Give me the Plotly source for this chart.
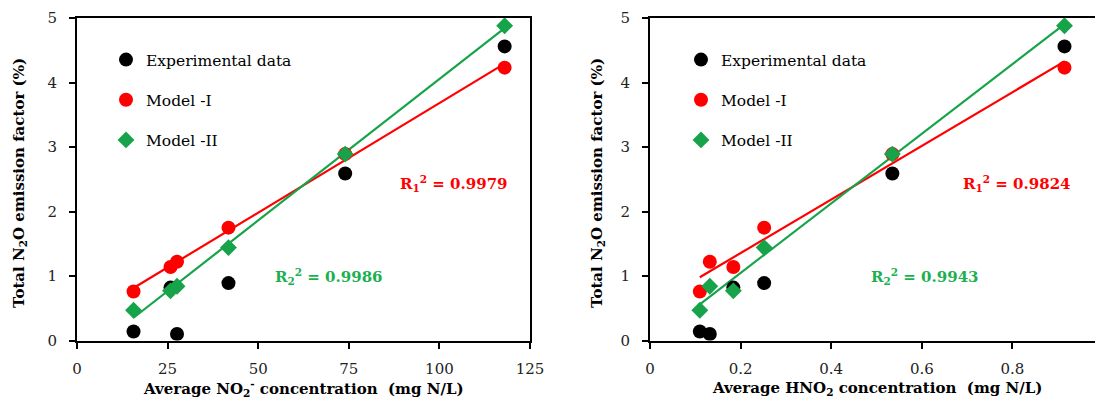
import numpy as np
import plotly.graph_objects as go

# ---- data ----
no2_conc = [15.6, 25.8, 27.6, 41.8, 74.0, 118.0]          # mg N/L
hno2_conc = [0.110, 0.184, 0.132, 0.252, 0.535, 0.915]    # mg N/L
experimental = [0.14, 0.82, 0.10, 0.89, 2.59, 4.56]       # %
model_1 = [0.76, 1.14, 1.22, 1.75, 2.89, 4.23]            # %
model_2 = [0.47, 0.77, 0.84, 1.44, 2.89, 4.88]            # %

r2_left = ["0.9979", "0.9986"]
r2_right = ["0.9824", "0.9943"]

FONT = "DejaVu Serif"
BLACK = "#000000"
RED = "#ff0000"
GREEN = "#16a34a"
GREEN_TXT = "#1cb050"

OFF = 8  # page body margin
W, H = 1103 - OFF, 401 - OFF
def px_x(p):
    return (p - OFF) / W
def px_y(p):
    return (H - (p - OFF)) / H

fig = go.Figure()

def trend(xs, ys):
    k, b = np.polyfit(xs, ys, 1)
    xe = [min(xs), max(xs)]
    return xe, [k * v + b for v in xe]

def add_panel(xs, xa, ya, legend):
    for ys, col in ((model_1, RED), (model_2, GREEN)):
        tx, ty = trend(xs, ys)
        fig.add_trace(go.Scatter(x=tx, y=ty, mode="lines", xaxis=xa, yaxis=ya,
                                 line=dict(color=col, width=2.2), showlegend=False,
                                 hoverinfo="skip"))
    fig.add_trace(go.Scatter(x=xs, y=experimental, mode="markers", xaxis=xa, yaxis=ya,
                             name="Experimental data", legend=legend, legendgroup=legend + "a",
                             marker=dict(color=BLACK, size=14, symbol="circle")))
    fig.add_trace(go.Scatter(x=xs, y=model_1, mode="markers", xaxis=xa, yaxis=ya,
                             name="Model -I", legend=legend, legendgroup=legend + "b",
                             marker=dict(color=RED, size=14, symbol="circle")))
    fig.add_trace(go.Scatter(x=xs, y=model_2, mode="markers", xaxis=xa, yaxis=ya,
                             name="Model -II", legend=legend, legendgroup=legend + "c",
                             marker=dict(color=GREEN, size=13, symbol="diamond")))

add_panel(no2_conc, "x", "y", "legend")
add_panel(hno2_conc, "x2", "y2", "legend2")

axis_common = dict(showline=True, linecolor="black", linewidth=2, mirror=True,
                   ticks="outside", ticklen=6, tickwidth=2, tickcolor="black",
                   showgrid=False, zeroline=False, automargin=False,
                   tickfont=dict(family=FONT, size=15, color="#222"))

ydom = [px_y(340.5), px_y(18)]
leg_common = dict(xanchor="left", yanchor="top",
                  font=dict(family=FONT, size=15.5, color="black"),
                  bgcolor="rgba(0,0,0,0)", tracegroupgap=17, itemwidth=30)
fig.update_layout(
    template="simple_white",
    width=W, height=H,
    margin=dict(l=0, r=0, t=0, b=0, autoexpand=False),
    paper_bgcolor="white", plot_bgcolor="white",
    font=dict(family=FONT, color="black"),
    xaxis=dict(domain=[px_x(77), px_x(530)], range=[0, 125], dtick=25, anchor="y",
               ticklabelstandoff=7, **axis_common),
    yaxis=dict(domain=ydom, range=[0, 5], dtick=1, anchor="x",
               ticklabelstandoff=9, **axis_common),
    xaxis2=dict(domain=[px_x(650), 1.0], range=[0, 1], dtick=0.2, anchor="y2",
                ticklabelstandoff=7, **axis_common),
    yaxis2=dict(domain=ydom, range=[0, 5], dtick=1, anchor="x2",
                ticklabelstandoff=9, **axis_common),
    legend=dict(x=px_x(106), y=px_y(43), **leg_common),
    legend2=dict(x=px_x(681), y=px_y(43), **leg_common),
)

ann = []
ann.append(dict(x=104.0, y=2.44, xref="x", yref="y",
                text="<b>R<sub>1</sub><sup>2</sup> = " + r2_left[0] + "</b>",
                font=dict(family=FONT, size=15, color=RED), showarrow=False))
ann.append(dict(x=69.5, y=1.0, xref="x", yref="y",
                text="<b>R<sub>2</sub><sup>2</sup> = " + r2_left[1] + "</b>",
                font=dict(family=FONT, size=15, color=GREEN_TXT), showarrow=False))
ann.append(dict(x=0.81, y=2.44, xref="x2", yref="y2",
                text="<b>R<sub>1</sub><sup>2</sup> = " + r2_right[0] + "</b>",
                font=dict(family=FONT, size=15, color=RED), showarrow=False))
ann.append(dict(x=0.607, y=1.0, xref="x2", yref="y2",
                text="<b>R<sub>2</sub><sup>2</sup> = " + r2_right[1] + "</b>",
                font=dict(family=FONT, size=15, color=GREEN_TXT), showarrow=False))

ytitle = "<b>Total N<sub>2</sub>O emission factor (%)</b>"
for xc in (19, 597):
    ann.append(dict(x=px_x(xc), y=px_y(183), xref="paper", yref="paper", text=ytitle,
                    textangle=-90, showarrow=False, xanchor="center", yanchor="middle",
                    font=dict(family=FONT, size=15, color="black")))
ann.append(dict(x=px_x(303.5), y=px_y(388), xref="paper", yref="paper",
                text="<b>Average NO<sub>2</sub><sup>-</sup> concentration \u00a0(mg N/L)</b>",
                showarrow=False, xanchor="center", yanchor="middle",
                font=dict(family=FONT, size=15, color="black")))
ann.append(dict(x=px_x(877), y=px_y(388), xref="paper", yref="paper",
                text="<b>Average HNO<sub>2</sub> concentration \u00a0(mg N/L)</b>",
                showarrow=False, xanchor="center", yanchor="middle",
                font=dict(family=FONT, size=15, color="black")))
fig.update_layout(annotations=ann)

fig.write_html("out.html")
